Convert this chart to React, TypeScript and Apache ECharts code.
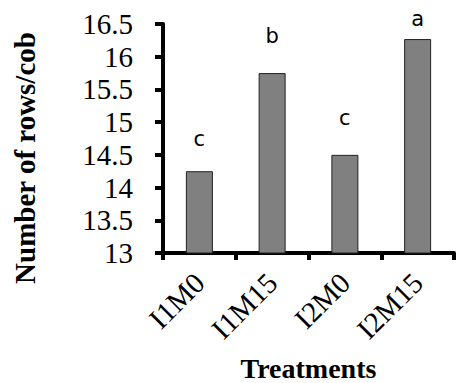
import React, { useEffect, useRef } from "react";
import * as echarts from "echarts";

const categories = ["I1M0", "I1M15", "I2M0", "I2M15"];
const values = [14.25, 15.75, 14.5, 16.27];
const letters = ["c", "b", "c", "a"];
const letterGaps = [22, 27, 26, 10];
const yTicks = { min: 13, max: 16.5, interval: 0.5 };

const SERIF = "Liberation Serif";

export default function App() {
  const ref = useRef<HTMLDivElement>(null);
  useEffect(() => {
    document.body.style.margin = "0";
    const chart = echarts.init(ref.current!, null, { renderer: "svg" });
    chart.setOption({
      animation: false,
      textStyle: { fontFamily: SERIF },
      grid: {
        left: 163,
        right: 3,
        top: 24,
        bottom: 130,
        containLabel: false,
        outerBoundsMode: "none",
      },
      graphic: [
        {
          type: "text",
          x: 25,
          y: 158,
          rotation: Math.PI / 2,
          style: {
            text: "Number of rows/cob",
            font: "bold 29px 'Liberation Serif'",
            fill: "#000",
            align: "center",
            verticalAlign: "middle",
          },
        },
      ],
      xAxis: {
        type: "category",
        data: categories,
        name: "Treatments",
        nameLocation: "middle",
        nameGap: 101,
        nameTextStyle: {
          fontFamily: SERIF,
          fontWeight: "bold",
          fontSize: 28,
          color: "#000",
        },
        axisLine: { lineStyle: { color: "#000", width: 4 } },
        axisTick: { show: true, length: 7, lineStyle: { color: "#000", width: 4 } },
        axisLabel: {
          rotate: 45,
          margin: 25,
          fontFamily: SERIF,
          fontSize: 29,
          color: "#000",
        },
      },
      yAxis: {
        type: "value",
        min: yTicks.min,
        max: yTicks.max,
        interval: yTicks.interval,
        splitLine: { show: false },
        axisLine: { show: true, lineStyle: { color: "#000", width: 4 } },
        axisTick: { show: true, length: 8, lineStyle: { color: "#000", width: 4 } },
        axisLabel: {
          margin: 30,
          fontFamily: SERIF,
          fontSize: 29,
          color: "#000",
        },
      },
      series: [
        {
          type: "bar",
          barWidth: 27,
          data: values.map((v, i) => ({
            value: v,
            label: {
              show: true,
              position: "top",
              distance: letterGaps[i],
              formatter: letters[i],
              fontFamily: "DejaVu Sans",
              fontSize: 21,
              color: "#000",
            },
          })),
          itemStyle: { color: "#808080", borderColor: "#222", borderWidth: 1 },
        },
      ],
    });
    return () => chart.dispose();
  }, []);
  return <div ref={ref} style={{ width: 457, height: 383 }} />;
}
